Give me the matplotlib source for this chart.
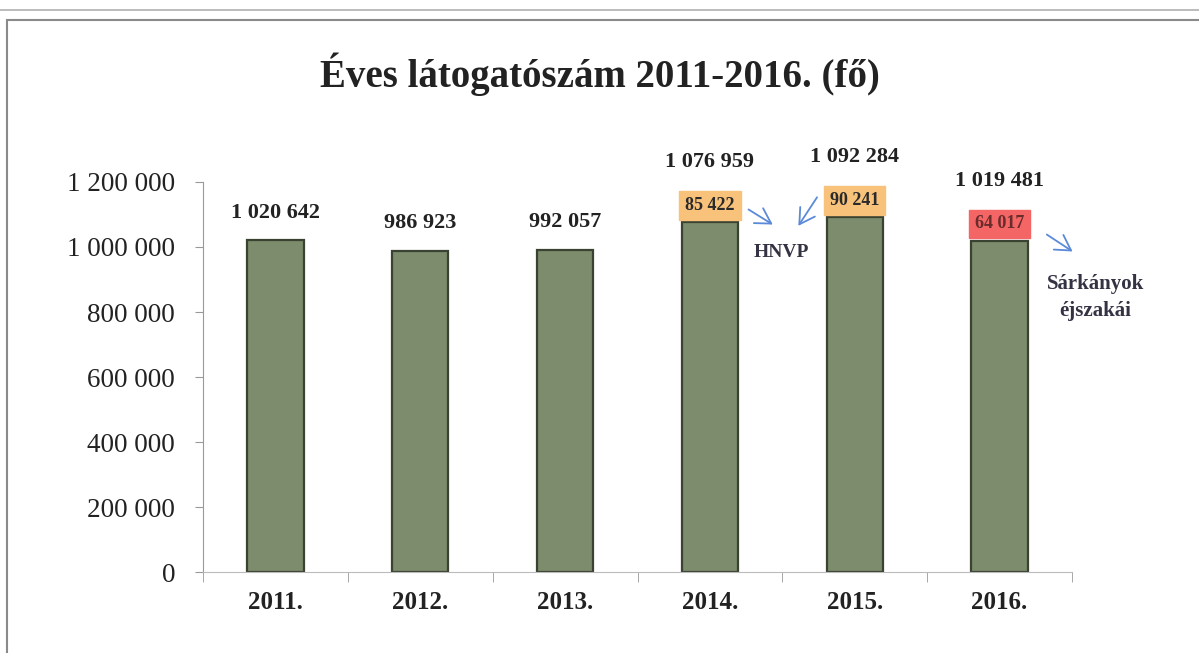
import matplotlib.pyplot as plt
import matplotlib.patches as patches
from matplotlib.ticker import FuncFormatter

# adatok
evek = ["2011.", "2012.", "2013.", "2014.", "2015.", "2016."]
latogatok = [1020642, 986923, 992057, 1076959, 1092284, 1019481]
rendezveny = [None, None, None, 85422, 90241, 64017]
y_ticks = [0, 200000, 400000, 600000, 800000, 1000000, 1200000]

def ezres(v):
    return f"{int(v):,}".replace(",", " ")

plt.rcParams['font.family'] = ['Liberation Serif', 'DejaVu Serif']

fig = plt.figure(figsize=(11.99, 6.53), dpi=100)
ax = fig.add_axes([0.1693, 0.124, 0.7248, 0.5973])

# keret
fig.add_artist(patches.Rectangle((7/1199, -0.01), 1.1, 1 - 20/653 + 0.01,
                                 transform=fig.transFigure, fill=False,
                                 edgecolor='#8a8a8a', linewidth=1.5))
fig.add_artist(plt.Line2D([0, 1], [1 - 10/653, 1 - 10/653], transform=fig.transFigure,
                          color='#b0b0b0', linewidth=1.2))

x = list(range(len(evek)))
ax.bar(x, latogatok, width=0.39, color='#7d8c6c', edgecolor='#3a4232', linewidth=1.6)

ax.set_xlim(-0.5, 5.5)
ax.set_ylim(0, 1200000)
ax.set_yticks(y_ticks)
ax.yaxis.set_major_formatter(FuncFormatter(lambda v, p: ezres(v)))
ax.set_xticks(x)
ax.set_xticklabels(evek, fontsize=18, fontweight='bold', color='#222222')
ax.set_xticks([i + 0.5 for i in range(-1, 6)], minor=True)
ax.tick_params(axis='x', which='major', length=0, pad=14)
ax.tick_params(axis='x', which='minor', length=7, color='#999999', direction='out')
ax.tick_params(axis='y', labelsize=19.5, length=6, color='#999999', pad=14, labelcolor='#222222')
for s in ['top', 'right']:
    ax.spines[s].set_visible(False)
ax.spines['left'].set_color('#999999')
ax.spines['bottom'].set_color('#bbbbbb')

fig.text(0.5, 0.886, "Éves látogatószám 2011-2016. (fő)", ha='center', va='center',
         fontsize=28, fontweight='bold', color='#222222')

# értékcímkék és rendezvények
for i, (v, r) in enumerate(zip(latogatok, rendezveny)):
    off = 20 if r is None else 43
    ax.annotate(ezres(v), (i, v), xytext=(0, off), textcoords='offset points',
                ha='center', va='center', fontsize=16, fontweight='bold', color='#222222',
                annotation_clip=False)
    if r is not None:
        szin = '#f46565' if i == 5 else '#f8c27a'
        tsz = '#6a2b2b' if i == 5 else '#2a2a2a'
        ax.annotate(ezres(r), (i, v), xytext=(0, 12), textcoords='offset points',
                    ha='center', va='center', fontsize=13, fontweight='bold', color=tsz,
                    bbox=dict(boxstyle='square,pad=0.33', facecolor=szin, edgecolor=szin),
                    annotation_clip=False)

nyil = dict(arrowstyle='->,head_length=0.6,head_width=0.35', color='#5a8ad8',
            linewidth=1.3, mutation_scale=18)
ax.annotate("", xy=(3.45, 1064600), xytext=(3.25, 1120000), arrowprops=nyil, annotation_clip=False)
ax.annotate("", xy=(3.6, 1058000), xytext=(3.75, 1160000), arrowprops=nyil, annotation_clip=False)
ax.annotate("", xy=(5.52, 981500), xytext=(5.31, 1043000), arrowprops=nyil, annotation_clip=False)
ax.text(3.49, 984600, "HNVP", ha='center', va='center', fontsize=14, fontweight='bold',
        color='#333344')
ax.text(5.66, 845000, "Sárkányok\néjszakái", ha='center', va='center', fontsize=15,
        fontweight='bold', color='#333344', linespacing=1.45, clip_on=False)

fig.savefig("out.png", dpi=100)
